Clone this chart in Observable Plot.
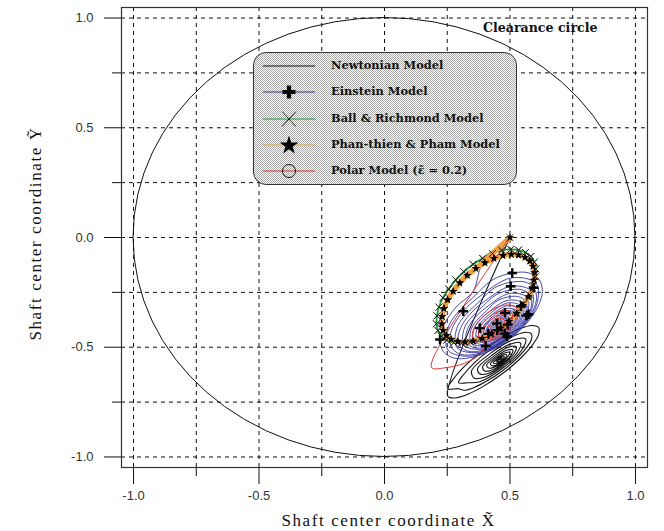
<!DOCTYPE html>
<html><head><meta charset="utf-8">
<script src="https://cdn.jsdelivr.net/npm/d3@7"></script>
<script src="https://cdn.jsdelivr.net/npm/@observablehq/plot@0.6"></script>
<style>
html,body{margin:0;padding:0;background:#fff;}
#wrap{position:relative;width:664px;height:531px;}
#legend{position:absolute;left:253px;top:52px;width:262px;height:131px;border:1.3px solid #333;border-radius:13px;
background-color:#fff;background-image:repeating-conic-gradient(#a8a8a8 0% 25%, #ffffff 0% 50%);background-size:2px 2px;}
.row{position:absolute;left:0;width:262px;height:20px;}
.row svg{position:absolute;left:6px;top:0;}
.row span{position:absolute;left:77px;top:2px;white-space:nowrap;font:bold 11.4px "DejaVu Serif",serif;color:#111;line-height:15px;}
</style></head><body><div id="wrap"></div>
<script>
// ---- axes / ticks ----
const majorTicks = [-1, -0.5, 0, 0.5, 1];
const minorTicks = [-0.75, -0.25, 0.25, 0.75];
const gridTicks = [-1, -0.75, -0.5, -0.25, 0, 0.25, 0.5, 0.75, 1];
const domain = [-1.048, 1.048];
const clearance = [{x: 0, y: 0, r: 1}];

// ---- legend ----
const models = ["Newtonian Model", "Einstein Model", "Ball & Richmond Model", "Phan-thien & Pham Model", "Polar Model  (\u03B5\u0303 = 0.2)"];
const colors = ["#111111", "#3434a2", "#1f9a3a", "#f0a040", "#e23535"];
const symbols = [null, "plus", "times", "star", "circle"];

// ---- trajectories (x, y) ----
const newtonian = [[0.5,0],[0.252,-0.722],[0.279,-0.731],[0.330,-0.715],[0.397,-0.676],[0.469,-0.621],[0.536,-0.557],[0.587,-0.494],[0.614,-0.443],[0.614,-0.410],[0.587,-0.401],[0.536,-0.417],[0.469,-0.456],[0.397,-0.511],[0.330,-0.575],[0.279,-0.638],[0.252,-0.689],
[0.295,-0.689],[0.317,-0.696],[0.358,-0.683],[0.411,-0.652],[0.469,-0.608],[0.522,-0.557],[0.563,-0.506],[0.585,-0.466],[0.585,-0.439],[0.563,-0.432],[0.522,-0.445],[0.469,-0.476],[0.411,-0.520],[0.358,-0.571],[0.317,-0.622],[0.295,-0.662],
[0.330,-0.662],[0.380,-0.657],[0.469,-0.597],[0.545,-0.516],[0.562,-0.462],[0.512,-0.467],[0.423,-0.527],[0.347,-0.608],
[0.358,-0.641],[0.397,-0.637],[0.468,-0.589],[0.529,-0.524],[0.542,-0.481],[0.503,-0.485],[0.432,-0.533],[0.371,-0.598],
[0.381,-0.622],[0.412,-0.620],[0.467,-0.582],[0.515,-0.531],[0.525,-0.498],[0.494,-0.500],[0.439,-0.538],[0.391,-0.589],
[0.399,-0.608],[0.423,-0.606],[0.466,-0.577],[0.503,-0.538],[0.511,-0.512],[0.487,-0.514],[0.444,-0.543],[0.407,-0.582],
[0.415,-0.595],[0.433,-0.593],[0.465,-0.572],[0.492,-0.542],[0.499,-0.523],[0.481,-0.525],[0.449,-0.546],[0.422,-0.576],
[0.429,-0.584],[0.442,-0.583],[0.464,-0.568],[0.483,-0.547],[0.487,-0.534],[0.474,-0.535],[0.452,-0.550],[0.433,-0.571],
[0.441,-0.575],[0.449,-0.574],[0.463,-0.565],[0.474,-0.552],[0.477,-0.543],[0.469,-0.544],[0.455,-0.553],[0.444,-0.566],
[0.450,-0.567],[0.454,-0.566],[0.461,-0.562],[0.467,-0.555],[0.468,-0.551],[0.464,-0.552],[0.457,-0.556],[0.451,-0.563]];

const einstein = [[0.5,0],[0.39,-0.12],
[0.353,-0.246],[0.285,-0.317],[0.239,-0.394],[0.221,-0.465],[0.234,-0.519],[0.276,-0.549],[0.341,-0.548],[0.418,-0.518],[0.497,-0.464],[0.565,-0.393],[0.611,-0.316],[0.629,-0.245],[0.616,-0.191],[0.574,-0.161],[0.509,-0.162],[0.432,-0.192],
[0.363,-0.262],[0.258,-0.398],[0.253,-0.513],[0.352,-0.540],[0.495,-0.462],[0.600,-0.326],[0.605,-0.211],[0.506,-0.184],
[0.372,-0.275],[0.314,-0.336],[0.275,-0.401],[0.260,-0.462],[0.271,-0.507],[0.306,-0.533],[0.362,-0.532],[0.427,-0.507],[0.494,-0.461],[0.552,-0.400],[0.591,-0.335],[0.606,-0.274],[0.595,-0.229],[0.560,-0.203],[0.504,-0.204],[0.439,-0.229],
[0.381,-0.288],[0.292,-0.403],[0.288,-0.501],[0.371,-0.524],[0.493,-0.458],[0.582,-0.343],[0.586,-0.245],[0.503,-0.222],
[0.388,-0.300],[0.339,-0.351],[0.306,-0.406],[0.293,-0.457],[0.302,-0.496],[0.333,-0.518],[0.380,-0.517],[0.435,-0.495],[0.492,-0.456],[0.541,-0.405],[0.574,-0.350],[0.587,-0.299],[0.578,-0.260],[0.547,-0.238],[0.500,-0.239],[0.445,-0.261],
[0.395,-0.310],[0.320,-0.408],[0.317,-0.490],[0.388,-0.509],[0.491,-0.454],[0.566,-0.356],[0.569,-0.274],[0.498,-0.255],
[0.403,-0.321],[0.362,-0.363],[0.334,-0.409],[0.324,-0.452],[0.331,-0.484],[0.357,-0.502],[0.396,-0.502],[0.442,-0.484],[0.489,-0.451],[0.530,-0.409],[0.558,-0.363],[0.568,-0.320],[0.561,-0.288],[0.535,-0.270],[0.496,-0.270],[0.450,-0.288],
[0.409,-0.331],[0.348,-0.411],[0.345,-0.479],[0.403,-0.494],[0.487,-0.449],[0.548,-0.369],[0.551,-0.301],[0.493,-0.286],
[0.415,-0.340],[0.359,-0.412],[0.356,-0.473],[0.409,-0.488],[0.485,-0.446],[0.541,-0.374],[0.544,-0.313],[0.491,-0.298],
[0.420,-0.348],[0.370,-0.413],[0.368,-0.468],[0.415,-0.481],[0.484,-0.444],[0.534,-0.379],[0.536,-0.324],[0.489,-0.311],
[0.425,-0.355],[0.380,-0.413],[0.379,-0.462],[0.420,-0.473],[0.481,-0.441],[0.526,-0.383],[0.527,-0.334],[0.486,-0.323],
[0.429,-0.362],[0.390,-0.413],[0.388,-0.457],[0.425,-0.467],[0.479,-0.438],[0.518,-0.387],[0.520,-0.343],[0.483,-0.333],
[0.433,-0.368],[0.399,-0.413],[0.398,-0.450],[0.430,-0.459],[0.477,-0.434],[0.511,-0.389],[0.512,-0.352],[0.480,-0.343],
[0.437,-0.374],[0.408,-0.412],[0.406,-0.445],[0.434,-0.452],[0.475,-0.430],[0.504,-0.392],[0.506,-0.359],[0.478,-0.352],
[0.440,-0.379],[0.415,-0.412],[0.414,-0.439],[0.438,-0.445],[0.472,-0.427],[0.497,-0.394],[0.498,-0.367],[0.474,-0.361],
[0.444,-0.384],[0.423,-0.411],[0.422,-0.434],[0.441,-0.440],[0.470,-0.424],[0.491,-0.397],[0.492,-0.374],[0.473,-0.368],
[0.446,-0.388],[0.429,-0.410],[0.428,-0.429],[0.444,-0.433],[0.468,-0.420],[0.485,-0.398],[0.486,-0.379],[0.470,-0.375],
[0.448,-0.392],[0.435,-0.410],[0.434,-0.425],[0.447,-0.428],[0.466,-0.418],[0.479,-0.400],[0.480,-0.385],[0.467,-0.382],
[0.451,-0.395],[0.440,-0.409],[0.440,-0.420],[0.449,-0.422],[0.463,-0.415],[0.474,-0.401],[0.474,-0.390],[0.465,-0.388]];

const ballCycle = [[0.391,-0.095],[0.353,-0.122],[0.316,-0.156],[0.284,-0.193],[0.256,-0.234],[0.233,-0.275],[0.217,-0.317],[0.209,-0.357],[0.207,-0.393],[0.213,-0.424],[0.227,-0.450],[0.248,-0.468],[0.276,-0.479],[0.307,-0.482],[0.342,-0.477],[0.380,-0.463],[0.419,-0.441],[0.457,-0.414],[0.494,-0.380],[0.526,-0.343],[0.554,-0.302],[0.577,-0.261],[0.593,-0.219],[0.601,-0.179],[0.603,-0.143],[0.597,-0.112],[0.583,-0.086],[0.562,-0.068],[0.534,-0.057],[0.503,-0.054],[0.468,-0.059],[0.430,-0.073]];

const phanCycle = [[0.364,-0.141],[0.330,-0.172],[0.300,-0.207],[0.274,-0.245],[0.252,-0.284],[0.237,-0.323],[0.230,-0.360],[0.228,-0.394],[0.234,-0.423],[0.247,-0.447],[0.266,-0.464],[0.292,-0.474],[0.321,-0.477],[0.354,-0.472],[0.390,-0.459],[0.426,-0.439],[0.462,-0.413],[0.496,-0.382],[0.526,-0.347],[0.552,-0.309],[0.574,-0.270],[0.589,-0.231],[0.596,-0.194],[0.598,-0.160],[0.592,-0.131],[0.579,-0.107],[0.560,-0.090],[0.534,-0.080],[0.505,-0.077],[0.472,-0.082],[0.436,-0.095],[0.400,-0.115]];

const polar = [[0.5,0],[0.187,-0.591],[0.25,-0.592],[0.318,-0.573],[0.385,-0.527],
[0.402,-0.482],[0.472,-0.444],[0.524,-0.377],[0.526,-0.321],[0.478,-0.308],[0.408,-0.346],[0.356,-0.413],[0.354,-0.469],
[0.413,-0.464],[0.466,-0.435],[0.505,-0.385],[0.507,-0.342],[0.471,-0.332],[0.418,-0.361],[0.379,-0.411],[0.377,-0.454],
[0.422,-0.448],[0.461,-0.427],[0.490,-0.390],[0.491,-0.359],[0.464,-0.352],[0.425,-0.373],[0.396,-0.410],[0.395,-0.441],
[0.430,-0.434],[0.456,-0.420],[0.476,-0.394],[0.476,-0.373],[0.458,-0.368],[0.432,-0.382],[0.412,-0.408],[0.412,-0.429],
[0.436,-0.421],[0.451,-0.413],[0.463,-0.398],[0.463,-0.386],[0.452,-0.383],[0.437,-0.391],[0.425,-0.406],[0.425,-0.418]];

const startPoint = [[0.5, 0]];
const ball = [...startPoint, ...ballCycle, ...ballCycle];
const phan = [...startPoint, ...phanCycle, ...phanCycle];
const einsteinMarks = einstein.filter((d, i) => i > 1 && i % 11 === 5);

const xTitle = "Shaft center coordinate X\u0303";
const yTitle = "Shaft center coordinate \u1EF8";
const annotation = "Clearance circle";

// ---- custom mark: clearance circle drawn through the plot scales ----
function clearanceMark(data) {
  return function(index, scales) {
    const fx = scales.x, fy = scales.y;
    const g = d3.create("svg:g");
    for (const c of data) {
      const cx = fx(c.x), cy = fy(c.y);
      g.append("ellipse").attr("cx", cx).attr("cy", cy)
        .attr("rx", Math.abs(fx(c.x + c.r) - cx))
        .attr("ry", Math.abs(fy(c.y + c.r) - cy))
        .attr("fill", "none").attr("stroke", "#111").attr("stroke-width", 1);
    }
    return g.node();
  };
}

const px = d => d[0], py = d => d[1];
const lineOpts = (stroke, w) => ({x: px, y: py, curve: "catmull-rom", stroke, strokeWidth: w, strokeLinejoin: "round"});
const dash = {stroke: "#111", strokeWidth: 1, strokeDasharray: "4,4"};
const serif = '"Liberation Serif", "Times New Roman", serif';
const boldSerif = '"DejaVu Serif", serif';

const chart = Plot.plot({
  width: 664, height: 531,
  marginLeft: 121, marginRight: 17, marginTop: 7, marginBottom: 64,
  x: {domain, label: null},
  y: {domain, label: null},
  style: {background: "transparent", fontFamily: '"Liberation Sans", Arial, sans-serif', fontSize: "13px", color: "#333", overflow: "visible"},
  marks: [
    Plot.ruleX(gridTicks, dash),
    Plot.ruleY(gridTicks, dash),
    clearanceMark(clearance),
    Plot.line(newtonian, lineOpts(colors[0], 1.1)),
    Plot.line(einstein, lineOpts(colors[1], 0.9)),
    Plot.line(ball, lineOpts(colors[2], 1.8)),
    Plot.line(phan, lineOpts(colors[3], 5.2)),
    Plot.line(polar, lineOpts(colors[4], 1)),
    Plot.dot(einsteinMarks, {x: px, y: py, symbol: "plus", r: 3.2, stroke: "#000", strokeWidth: 2.4}),
    Plot.dot(ball, {x: px, y: py, symbol: "times", r: 3.2, stroke: "#222", strokeWidth: 0.8}),
    Plot.dot(phan, {x: px, y: py, symbol: "star", r: 2.6, fill: "#000", stroke: "none"}),
    Plot.frame({stroke: "#333", strokeWidth: 1.2}),
    Plot.axisX(majorTicks, {tickSize: 17, tickPadding: 6, tickFormat: d => d.toFixed(1), label: null, stroke: "#111"}),
    Plot.axisX(minorTicks, {tickSize: 9, tickFormat: () => "", label: null, stroke: "#111"}),
    Plot.axisY(majorTicks, {tickSize: 17, tickPadding: 11, tickFormat: d => d.toFixed(1), label: null, stroke: "#111"}),
    Plot.axisY(minorTicks, {tickSize: 9, tickFormat: () => "", label: null, stroke: "#111"}),
    Plot.text([annotation], {text: d => d, frameAnchor: "top-right", dx: -50, dy: 20, textAnchor: "end", lineAnchor: "middle", fontFamily: boldSerif, fontWeight: "bold", fontSize: 12.6, fill: "#111"}),
    Plot.text([xTitle], {text: d => d, frameAnchor: "bottom", dx: 4, dy: 53, textAnchor: "middle", lineAnchor: "middle", fontFamily: serif, fontSize: 17, fill: "#111"}),
    Plot.text([yTitle], {text: d => d, frameAnchor: "left", dx: -86, dy: -4, rotate: -90, textAnchor: "middle", lineAnchor: "middle", fontFamily: serif, fontSize: 17, fill: "#111"})
  ]
});
d3.select(chart).selectAll("text").filter(function() { return this.textContent.startsWith("Shaft"); }).attr("letter-spacing", "1.6px");
document.getElementById("wrap").appendChild(chart);

// legend overlay
const legend = d3.select("#wrap").append("div").attr("id", "legend");
const rowTops = [3, 29, 56, 82, 108];
models.forEach((m, i) => {
  const row = legend.append("div").attr("class", "row").style("top", rowTops[i] + "px");
  const svg = row.append("svg").attr("width", 58).attr("height", 20);
  svg.append("line").attr("x1", 3).attr("x2", 55).attr("y1", 10).attr("y2", 10).attr("stroke", colors[i]).attr("stroke-width", 1.2);
  const s = symbols[i];
  if (s === "plus") svg.append("path").attr("d", "M29,3.5V16.5M22.5,10H35.5").attr("stroke", "#000").attr("stroke-width", 4.2);
  if (s === "times") svg.append("path").attr("d", "M22,2.5L36,17.5M36,2.5L22,17.5").attr("stroke", "#111").attr("stroke-width", 0.9);
  if (s === "star") svg.append("path").attr("transform", "translate(29,10.5)").attr("d", d3.symbol(d3.symbolStar, 110)()).attr("fill", "#000");
  if (s === "circle") svg.append("circle").attr("cx", 29).attr("cy", 10).attr("r", 6.5).attr("fill", "none").attr("stroke", "#111").attr("stroke-width", 1);
  row.append("span").text(m);
});
</script>
</body></html>
